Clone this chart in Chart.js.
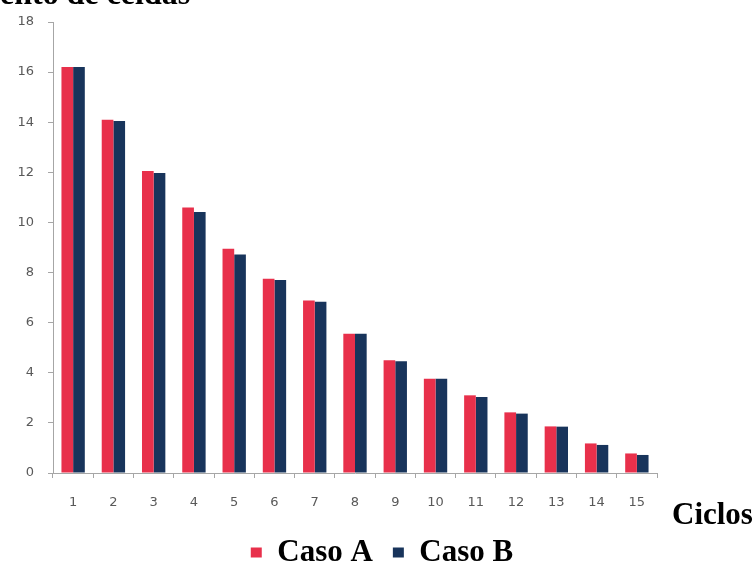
<!DOCTYPE html>
<html>
<head>
<meta charset="utf-8">
<script src="https://cdn.jsdelivr.net/npm/chart.js@4/dist/chart.umd.min.js"></script>
<style>
  body { margin: 0; background: #fff; }
  #wrap { position: relative; width: 756px; height: 563px; overflow: hidden; }
  #top { position: absolute; left: 0; top: -23px; font: bold 32px "Liberation Serif", serif; color: #000; white-space: nowrap; line-height: 1; }
</style>
</head>
<body>
<div id="wrap">
  <canvas id="chart" width="756" height="563"></canvas>
  <div id="top">ento de celdas</div>
</div>
<script>
// ciclos 1..15
const ciclos = ['1','2','3','4','5','6','7','8','9','10','11','12','13','14','15'];
const casoA = [16.2, 14.1, 12.05, 10.6, 8.95, 7.75, 6.88, 5.56, 4.5, 3.76, 3.1, 2.42, 1.86, 1.18, 0.78];
const casoB = [16.2, 14.05, 11.97, 10.42, 8.72, 7.7, 6.83, 5.56, 4.46, 3.76, 3.03, 2.37, 1.85, 1.12, 0.72];

const gris = '#a6a6a6';
const tickFont = { family: 'DejaVu Sans', size: 13 };

// "Ciclos" label next to the x axis
const ciclosLabel = {
    id: 'ciclosLabel',
    afterDraw(chart) {
        const c = chart.ctx;
        c.save();
        c.font = 'bold 31px "Liberation Serif"';
        c.fillStyle = '#000';
        c.textBaseline = 'alphabetic';
        c.fillText('Ciclos', chart.chartArea.right + 15, chart.chartArea.bottom + 51);
        c.restore();
    }
};

let ctx = document.getElementById('chart');
new Chart(ctx, {
    type: 'bar',
    data: {
        labels: ciclos,
        datasets: [
            { label: 'Caso A', data: casoA, backgroundColor: '#e8304b' },
            { label: 'Caso B', data: casoB, backgroundColor: '#18345b' }
        ]
    },
    options: {
        responsive: false,
        animation: false,
        layout: { padding: { top: 22, left: 8, right: 0, bottom: -15 } },
        datasets: { bar: { categoryPercentage: 0.58, barPercentage: 1.0 } },
        scales: {
            x: {
                grid: { drawOnChartArea: false, tickLength: 5, color: gris },
                border: { color: gris },
                ticks: { color: '#595959', font: tickFont, padding: 17 },
                afterFit(s) { s.height = 44; }
            },
            y: {
                min: 0, max: 18,
                grid: { drawOnChartArea: false, tickLength: 5, color: gris },
                border: { color: gris },
                ticks: { stepSize: 2, color: '#595959', font: tickFont, padding: 14 },
                afterFit(s) { s.width = 45; }
            },
            // empty space on the right for "Ciclos"
            derecha: {
                position: 'right',
                grid: { display: false },
                border: { display: false },
                ticks: { display: false },
                afterFit(s) { s.width = 99; }
            }
        },
        plugins: {
            legend: {
                position: 'bottom',
                labels: {
                    boxWidth: 11, boxHeight: 10, padding: 20,
                    color: '#000',
                    font: { family: 'Liberation Serif', size: 31, weight: 'bold' }
                }
            },
            tooltip: { enabled: false }
        }
    },
    plugins: [ciclosLabel]
});
</script>
</body>
</html>
